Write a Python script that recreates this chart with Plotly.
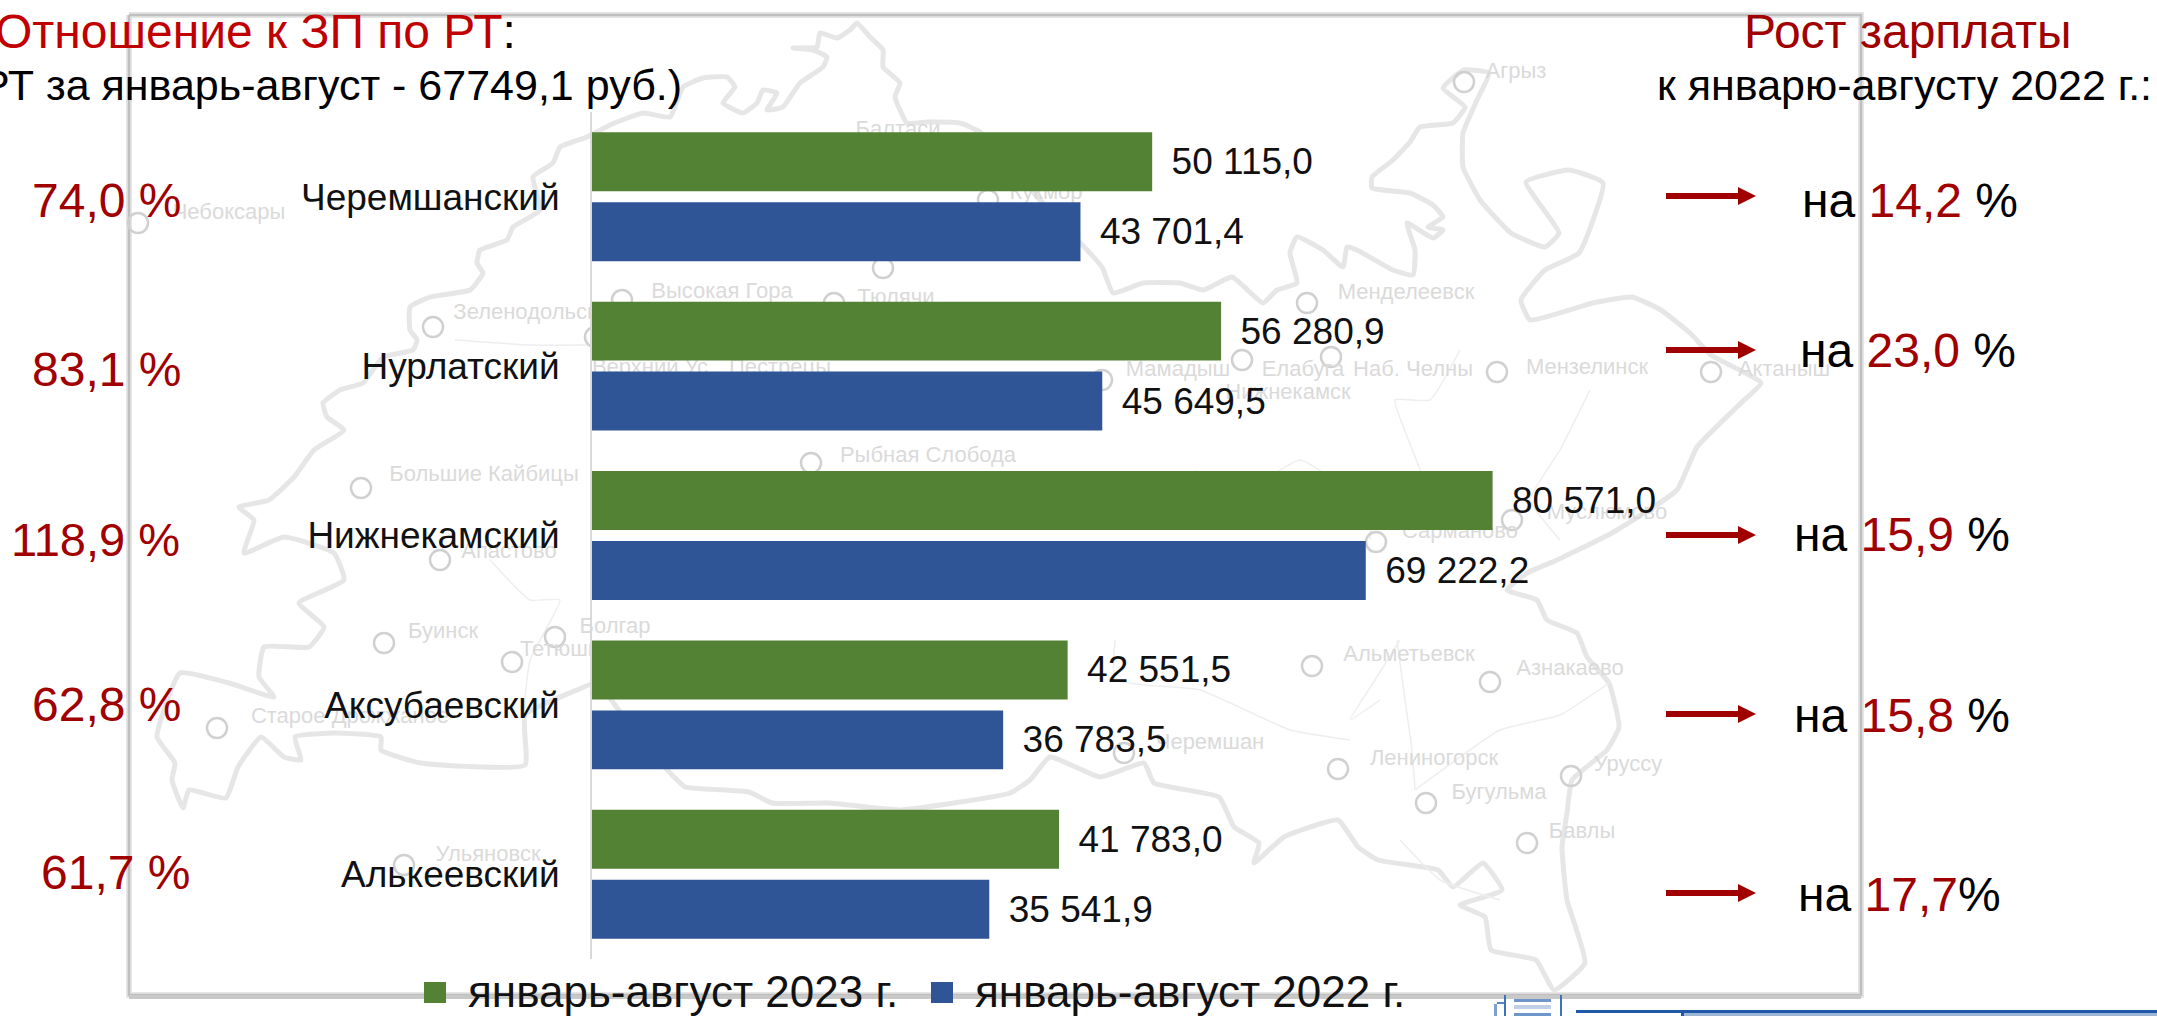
import plotly.graph_objects as go

# ---- chart data ----
categories = ["Черемшанский", "Нурлатский", "Нижнекамский", "Аксубаевский", "Алькеевский"]
values_2023 = [50115.0, 56280.9, 80571.0, 42551.5, 41783.0]
values_2022 = [43701.4, 45649.5, 69222.2, 36783.5, 35541.9]
name_2023 = "январь-август 2023 г."
name_2022 = "январь-август 2022 г."
ratio_labels = ["74,0 %", "83,1 %", "118,9 %", "62,8 %", "61,7 %"]
growth_values = ["14,2", "23,0", "15,9", "15,8", "17,7"]

GREEN = "#548235"
BLUE = "#2f5597"
DARKRED = "#a00000"
RED = "#c00000"
FONT = "Liberation Sans, Arial, sans-serif"
W, H = 2157, 1016


def fmt(v):
    return "\u00a0\u2006" + f"{v:,.1f}".replace(",", " ").replace(".", ",")


# ---- faint background map, in pixel coordinates of the overlay axes ----
outline = [
    (1489, 73), (1477, 100), (1463, 133), (1463, 167), (1480, 200), (1511, 233), (1545, 247), (1559, 233),
    (1526, 182), (1569, 170), (1603, 183), (1579, 253), (1545, 270), (1521, 300), (1530, 320), (1593, 303),
    (1632, 297), (1661, 310), (1690, 333), (1711, 355), (1761, 383), (1741, 403), (1697, 447), (1677, 490),
    (1612, 533), (1557, 560), (1527, 573), (1507, 590), (1537, 600), (1547, 620), (1577, 633), (1587, 657),
    (1609, 683), (1619, 727), (1607, 750), (1572, 780), (1567, 813), (1562, 847), (1567, 900), (1585, 963),
    (1554, 990), (1536, 960), (1491, 950), (1485, 917), (1460, 905), (1502, 890), (1483, 863), (1453, 887),
    (1438, 870), (1378, 860), (1358, 847), (1338, 820), (1284, 837), (1254, 863), (1259, 843), (1234, 827),
    (1219, 797), (1154, 783), (1144, 763), (1100, 777), (1050, 757), (1030, 780), (1010, 793), (900, 810),
    (829, 803), (772, 803), (749, 792), (685, 787), (674, 777), (640, 740), (597, 683), (577, 690),
    (525, 715), (525, 765), (421, 763), (381, 750), (381, 737), (335, 733), (295, 737), (301, 760),
    (284, 757), (261, 737), (238, 767), (226, 798), (189, 790), (183, 808), (172, 780), (175, 763),
    (157, 737), (180, 673), (229, 683), (274, 697), (259, 677), (264, 647), (309, 647), (324, 627),
    (299, 603), (344, 580), (334, 553), (284, 537), (244, 553), (254, 520), (239, 507), (269, 500),
    (294, 477), (314, 450), (344, 430), (327, 417), (323, 403), (340, 390), (363, 383), (383, 357),
    (413, 350), (417, 340), (410, 330), (410, 307), (430, 297), (470, 290), (483, 273), (477, 263),
    (480, 250), (507, 240), (513, 227), (540, 210), (533, 177), (553, 163), (560, 147), (587, 137),
    (610, 125), (643, 113), (670, 117), (683, 87), (703, 78), (727, 77), (735, 87), (723, 103),
    (743, 113), (757, 103), (763, 90), (777, 93), (767, 110), (783, 107), (800, 83), (823, 67),
    (827, 57), (813, 50), (793, 48), (817, 47), (820, 33), (837, 38), (850, 30), (857, 23),
    (870, 37), (883, 50), (883, 67), (900, 83), (895, 97), (907, 123), (927, 122), (960, 123),
    (980, 132), (1040, 200), (1102, 267), (1113, 293), (1143, 283), (1180, 283), (1203, 290), (1232, 277),
    (1263, 303), (1277, 290), (1297, 283), (1290, 253), (1297, 237), (1323, 250), (1343, 267), (1347, 247),
    (1357, 250), (1393, 270), (1413, 275), (1415, 250), (1407, 223), (1433, 238), (1443, 230), (1428, 227),
    (1443, 217), (1433, 205), (1410, 193), (1372, 188), (1372, 177), (1393, 160), (1410, 142), (1420, 127),
    (1453, 123), (1465, 107), (1443, 88), (1464, 70), (1489, 73),
]
inner_lines = [
    [(1397, 640), (1405, 700), (1412, 750), (1415, 790)],
    [(1400, 640), (1375, 680), (1350, 720), (1380, 700)],
    [(1415, 790), (1500, 730), (1560, 715), (1609, 683)],
    [(1460, 350), (1430, 400), (1395, 400), (1420, 470), (1430, 530)],
    [(1590, 390), (1560, 450), (1530, 500), (1560, 540)],
    [(1115, 640), (1115, 680), (1200, 690), (1290, 730), (1350, 740)],
    [(490, 560), (530, 600), (560, 600), (530, 660), (523, 720)],
    [(455, 340), (530, 345), (590, 345)],
    [(1400, 840), (1440, 880), (1500, 900)],
    [(1195, 470), (1230, 500), (1300, 460), (1370, 510), (1370, 540)],
]
places = [
    ("Чебоксары", 229, 213, 138, 223), ("Зеленодольск", 525, 313, 433, 327),
    ("Высокая Гора", 722, 292, 622, 300), ("Верхний Ус", 650, 368, None, None), ("Пестрецы", 780, 368, 595, 337),
    ("Кукмор", 1046, 193, 988, 200), ("Балтаси", 898, 130, 883, 268), ("Тюлячи", 896, 298, 834, 303),
    ("Менделеевск", 1406, 293, 1307, 303), ("Мамадыш", 1178, 370, 1102, 380), ("Елабуга", 1303, 370, 1242, 360),
    ("Наб. Челны", 1413, 370, 1331, 357), ("Нижнекамск", 1288, 393, None, None), ("Мензелинск", 1587, 368, 1497, 372),
    ("Актаныш", 1784, 370, 1711, 372), ("Агрыз", 1516, 72, 1464, 82), ("Рыбная Слобода", 928, 456, 811, 463),
    ("Большие Кайбицы", 484, 475, 361, 488), ("Апастово", 509, 552, 440, 560), ("Буинск", 443, 632, 384, 643),
    ("Болгар", 615, 627, 555, 637), ("Тетюши", 560, 650, 512, 662), ("Старое Дрожжаное", 350, 717, 217, 728),
    ("Ульяновск", 488, 855, 404, 865), ("Сарманово", 1460, 532, 1376, 542), ("Муслюмово", 1607, 513, 1512, 520),
    ("Альметьевск", 1409, 655, 1312, 666), ("Азнакаево", 1570, 669, 1490, 682), ("Черемшан", 1210, 743, 1124, 753),
    ("Лениногорск", 1434, 759, 1338, 769), ("Уруссу", 1628, 765, 1571, 776), ("Бугульма", 1499, 793, 1426, 803),
    ("Бавлы", 1582, 832, 1527, 843),
]
frame_x = [129, 1861, 1861, 129, 129]
frame_y = [15, 15, 995, 995, 15]

fig = go.Figure()


def pix_line(pts, width, color, smooth=True):
    fig.add_trace(go.Scatter(
        x=[p[0] for p in pts], y=[p[1] for p in pts], mode="lines", xaxis="x", yaxis="y",
        line=dict(width=width, color=color, shape="spline" if smooth else "linear", smoothing=0.4),
        hoverinfo="skip", showlegend=False))


# frame
pix_line(list(zip(frame_x, frame_y)), 6, "#e6e6e6", smooth=False)
pix_line(list(zip(frame_x, frame_y)), 2.5, "#bfbfbf", smooth=False)
pix_line([(129, 997), (1861, 997)], 4, "#c8c8c8", smooth=False)
# map
pix_line(outline, 5, "#e6e6e6")
for seg in inner_lines:
    pix_line(seg, 1.5, "#eeeeee")
fig.add_trace(go.Scatter(
    x=[p[3] for p in places if p[3]], y=[p[4] for p in places if p[3]], mode="markers", xaxis="x", yaxis="y",
    marker=dict(symbol="circle-open", size=20, color="#d0d0d0", line=dict(width=2.5, color="#d0d0d0")),
    hoverinfo="skip", showlegend=False))
fig.add_trace(go.Scatter(
    x=[p[1] for p in places], y=[p[2] for p in places], text=[p[0] for p in places], mode="text",
    xaxis="x", yaxis="y", textposition="middle center",
    textfont=dict(family=FONT, size=22, color="#dadada"), hoverinfo="skip", showlegend=False))

# bars (second axis pair so they are drawn above the map)
for name, vals, color in ((name_2023, values_2023, GREEN), (name_2022, values_2022, BLUE)):
    fig.add_trace(go.Bar(
        y=categories, x=vals, name=name, orientation="h", xaxis="x2", yaxis="y2",
        marker=dict(color=color, line=dict(width=0)),
        text=[fmt(v) for v in vals], textposition="outside", cliponaxis=False,
        textfont=dict(family=FONT, size=37, color="#111111"), showlegend=False))

annotations = []


def note(x, y, text, size, anchor="center", color="#000000"):
    annotations.append(dict(
        x=x, y=y, xref="x", yref="y", text=text, showarrow=False, xanchor=anchor, yanchor="middle",
        borderpad=0, font=dict(family=FONT, size=size, color=color)))


note(517, 31, f'<span style="color:{RED}">Отношение к ЗП по РТ</span>:', 48, "right")
note(683, 85, "РТ за январь-август - 67749,1 руб.)", 43, "right")
note(1907, 31, "Рост зарплаты", 48, "center", DARKRED)
note(2153, 85, "к январю-августу 2022 г.:", 43, "right")

ratio_right = [182, 182, 181, 182, 191]
ratio_size = [48, 48, 47, 48, 48]
ratio_y = [200, 369, 539, 704, 872]
for lbl, xr, yy, sz in zip(ratio_labels, ratio_right, ratio_y, ratio_size):
    note(xr, yy, lbl, sz, "right", DARKRED)

growth_left = [1801, 1799, 1793, 1793, 1797]
growth_y = [200, 350, 534, 715, 894]
arrow_y = [196, 350, 535, 714, 893]
for i, (g, xl, yy) in enumerate(zip(growth_values, growth_left, growth_y)):
    tail = "%" if i == 4 else " %"
    note(xl, yy, f'на <span style="color:{DARKRED}">{g}</span>{tail}', 48, "left")

shapes = []
for ay in arrow_y:
    shapes.append(dict(
        type="path", xref="x", yref="y", layer="above", fillcolor=DARKRED, line=dict(width=0),
        path=f"M1666,{ay-3} L1738,{ay-3} L1738,{ay-9} L1756,{ay} L1738,{ay+9} L1738,{ay+3} L1666,{ay+3} Z"))

# legend
for x0, color in ((424, GREEN), (931, BLUE)):
    shapes.append(dict(type="rect", xref="x", yref="y", layer="above", x0=x0, x1=x0 + 22, y0=982, y1=1003,
                       fillcolor=color, line=dict(width=0)))
note(467, 991, name_2023, 44, "left", "#111111")
note(974, 991, name_2022, 44, "left", "#111111")

# window chrome strip, bottom right
for x0, x1, y0, y1, c in (
    (1576, 2157, 1010, 1013, "#2058a8"), (1682, 2157, 1013, 1016, "#9db6d8"), (1681, 1684, 1013, 1016, "#2058a8"),
    (1504, 1506, 995, 1016, "#3f73b8"), (1560, 1562, 995, 1016, "#3f73b8"), (1494, 1497, 1004, 1016, "#7fa0cf"),
    (1497, 1504, 1002, 1004, "#5a86c2"), (1514, 1551, 999, 1002, "#6f96c9"), (1514, 1551, 1005, 1009, "#c0d0e6"),
    (1514, 1551, 1013, 1016, "#6f96c9"),
):
    shapes.append(dict(type="rect", xref="x", yref="y", layer="above", x0=x0, x1=x1, y0=y0, y1=y1,
                       fillcolor=c, line=dict(width=0)))

fig.update_layout(
    width=W, height=H, autosize=False, margin=dict(l=0, r=0, t=0, b=0),
    paper_bgcolor="white", plot_bgcolor="rgba(0,0,0,0)",
    barmode="group", bargap=0.174, bargroupgap=0.157, showlegend=False,
    xaxis=dict(domain=[0, 1], range=[0, W], visible=False, fixedrange=True),
    yaxis=dict(domain=[0, 1], range=[H, 0], visible=False, fixedrange=True),
    xaxis2=dict(domain=[592 / W, 1598 / W], range=[0, 90000], visible=False, anchor="y2", fixedrange=True),
    yaxis2=dict(
        domain=[1 - 959 / H, 1 - 112 / H], anchor="x2", autorange="reversed", type="category",
        categoryorder="array", categoryarray=categories, side="left", fixedrange=True,
        showline=True, linecolor="#d9d9d9", linewidth=2, ticks="", showgrid=False, zeroline=False,
        ticklabelstandoff=23, tickfont=dict(family=FONT, size=37, color="#111111")),
    annotations=annotations, shapes=shapes, font=dict(family=FONT),
)

fig.write_html("out.html", config=dict(displayModeBar=False),
               post_script="document.body.style.margin='0';document.body.style.overflow='hidden';")
